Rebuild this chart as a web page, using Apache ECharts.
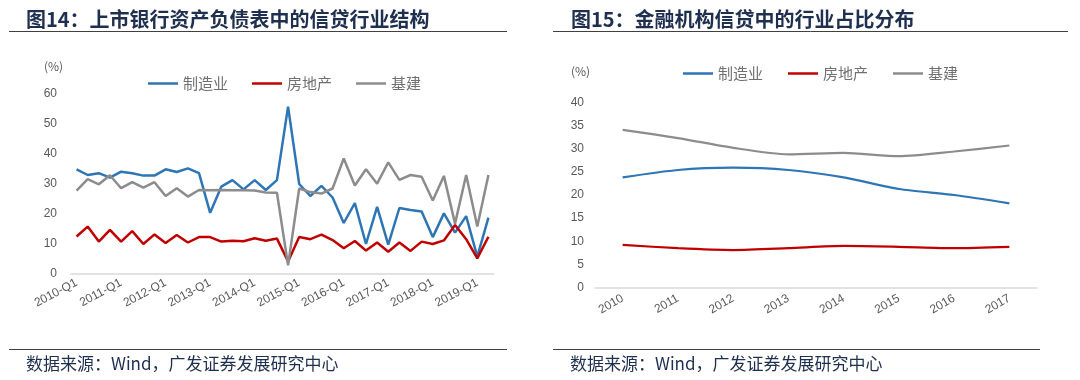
<!DOCTYPE html>
<html>
<head>
<meta charset="utf-8">
<script src="https://cdn.jsdelivr.net/npm/echarts@6/dist/echarts.min.js"></script>
<style>
html,body{margin:0;padding:0;background:#fff;}
#chart{width:1080px;height:380px;}
</style>
</head>
<body>
<div id="chart"></div>
<script>
// ---------- Data: Figure 14 (quarterly) ----------
const quarters = [
  '2010-Q1','2010-Q2','2010-Q3','2010-Q4',
  '2011-Q1','2011-Q2','2011-Q3','2011-Q4',
  '2012-Q1','2012-Q2','2012-Q3','2012-Q4',
  '2013-Q1','2013-Q2','2013-Q3','2013-Q4',
  '2014-Q1','2014-Q2','2014-Q3','2014-Q4',
  '2015-Q1','2015-Q2','2015-Q3','2015-Q4',
  '2016-Q1','2016-Q2','2016-Q3','2016-Q4',
  '2017-Q1','2017-Q2','2017-Q3','2017-Q4',
  '2018-Q1','2018-Q2','2018-Q3','2018-Q4',
  '2019-Q1','2019-Q2'
];
const mfgQ = [34.9, 33.0, 33.6, 32.1, 34.1, 33.6, 32.8, 32.8, 34.9, 34.0, 35.2, 33.6, 20.4, 29.1, 31.3, 28.2, 31.3, 28.0, 31.3, 55.8, 30.0, 26.0, 29.4, 25.5, 17.0, 23.6, 10.0, 22.4, 9.8, 22.0, 21.3, 20.8, 12.3, 20.2, 13.8, 19.3, 5.8, 18.8];
const reQ = [12.5, 15.8, 10.8, 14.7, 10.8, 14.3, 10.0, 13.2, 10.3, 13.0, 10.5, 12.3, 12.3, 10.8, 11.1, 10.9, 11.9, 11.1, 11.8, 4.2, 12.3, 11.6, 13.1, 11.3, 8.6, 11.0, 7.8, 10.5, 7.4, 10.5, 7.7, 10.8, 10.0, 11.2, 16.3, 11.6, 5.2, 12.4];
const infraQ = [27.8, 31.6, 29.9, 32.9, 28.6, 30.6, 28.8, 30.6, 26.0, 28.6, 25.8, 28.0, 27.9, 28.0, 27.9, 27.9, 27.8, 27.2, 27.1, 2.9, 28.5, 27.3, 26.8, 28.5, 38.5, 29.5, 34.9, 30.1, 37.2, 31.4, 33.0, 32.4, 24.5, 32.7, 16.8, 33.0, 15.8, 33.0];

// ---------- Data: Figure 15 (annual) ----------
const years = ['2010','2011','2012','2013','2014','2015','2016','2017'];
const mfgY = [23.8, 25.4, 25.9, 25.4, 23.8, 21.3, 20.0, 18.2];
const reY = [9.2, 8.5, 8.1, 8.5, 9.0, 8.8, 8.5, 8.8];
const infraY = [34.1, 32.3, 30.2, 28.8, 29.1, 28.4, 29.4, 30.7];

const seriesNames = ['制造业', '房地产', '基建'];
const colors = ['#2e75b6', '#c00000', '#8c8c8c'];

const title14 = '图14：上市银行资产负债表中的信贷行业结构';
const title15 = '图15：金融机构信贷中的行业占比分布';
const sourceText = '数据来源：Wind，广发证券发展研究中心';
const unitText = '(%)';

// ---------- Styling ----------
const CJK = '"Noto Sans CJK SC", "Liberation Sans", sans-serif';
const LAT = '"Liberation Sans", Arial, sans-serif';
const navy = '#1f2f4f';
const tickColor = '#595959';

const chart = echarts.init(document.getElementById('chart'), null, {renderer: 'canvas'});

function lineSeries(name, data, xi, width) {
  const c = colors[seriesNames.indexOf(name)];
  return {
    name: name, type: 'line', data: data,
    xAxisIndex: xi, yAxisIndex: xi,
    symbol: 'none', showSymbol: false, smooth: xi === 1 ? 0.25 : false,
    lineStyle: {color: c, width: width},
    itemStyle: {color: c},
    emphasis: {disabled: true}
  };
}

function legendFor(left, top, gap) {
  return {
    data: seriesNames.map(n => ({name: n, icon: 'rect'})),
    left: left, top: top, itemWidth: 30, itemHeight: 2.5, itemGap: gap,
    textStyle: {fontFamily: CJK, fontSize: 15, color: '#707070'},
    selectedMode: false
  };
}

const option = {
  animation: false,
  backgroundColor: '#fff',
  title: [
    {text: title14, left: 21, top: 4, textStyle: {fontFamily: CJK, fontSize: 20, fontWeight: 'bold', color: navy}},
    {text: title15, left: 566, top: 4, textStyle: {fontFamily: CJK, fontSize: 20, fontWeight: 'bold', color: navy}},
    {text: sourceText, left: 21, top: 350, textStyle: {fontFamily: CJK, fontSize: 17, fontWeight: 'normal', color: navy}},
    {text: sourceText, left: 565, top: 350, textStyle: {fontFamily: CJK, fontSize: 17, fontWeight: 'normal', color: navy}}
  ],
  legend: [
    legendFor(143, 71, 24),
    legendFor(678, 61, 25)
  ],
  grid: [
    {left: 71, right: 586, top: 94, bottom: 106},
    {left: 595, right: 43, top: 102.5, bottom: 92.5}
  ],
  xAxis: [
    {
      type: 'category', gridIndex: 0, data: quarters, boundaryGap: true,
      axisLine: {lineStyle: {color: '#d9d9d9', width: 1.5}},
      axisTick: {show: false},
      axisLabel: {interval: 3, rotate: 28, fontFamily: LAT, fontSize: 12, color: tickColor, margin: 8}
    },
    {
      type: 'category', gridIndex: 1, data: years, boundaryGap: true,
      axisLine: {lineStyle: {color: '#d9d9d9', width: 1.5}},
      axisTick: {show: false},
      axisLabel: {interval: 0, rotate: 30, fontFamily: LAT, fontSize: 12, color: tickColor, margin: 10}
    }
  ],
  yAxis: [
    {
      type: 'value', gridIndex: 0, min: 0, max: 60, interval: 10,
      axisLine: {show: false}, axisTick: {show: false}, splitLine: {show: false},
      axisLabel: {fontFamily: LAT, fontSize: 12, color: tickColor, margin: 14}
    },
    {
      type: 'value', gridIndex: 1, min: 0, max: 40, interval: 5,
      axisLine: {show: false}, axisTick: {show: false}, splitLine: {show: false},
      axisLabel: {fontFamily: LAT, fontSize: 12, color: tickColor, margin: 11}
    }
  ],
  series: [
    lineSeries('制造业', mfgQ, 0, 2.5),
    lineSeries('房地产', reQ, 0, 2.5),
    lineSeries('基建', infraQ, 0, 2.5),
    lineSeries('制造业', mfgY, 1, 2.2),
    lineSeries('房地产', reY, 1, 2.2),
    lineSeries('基建', infraY, 1, 2.2)
  ],
  graphic: [
    {type: 'line', shape: {x1: 9, y1: 31.5, x2: 507, y2: 31.5}, style: {stroke: '#404040', lineWidth: 1}},
    {type: 'line', shape: {x1: 553, y1: 31.5, x2: 1068, y2: 31.5}, style: {stroke: '#404040', lineWidth: 1}},
    {type: 'line', shape: {x1: 9, y1: 349.5, x2: 507, y2: 349.5}, style: {stroke: '#404040', lineWidth: 1}},
    {type: 'line', shape: {x1: 553, y1: 349.5, x2: 1040, y2: 349.5}, style: {stroke: '#404040', lineWidth: 1}},
    {type: 'text', left: 44, top: 60, style: {text: unitText, font: '12px ' + CJK, fill: tickColor}},
    {type: 'text', left: 571, top: 65, style: {text: unitText, font: '12px ' + CJK, fill: tickColor}}
  ]
};
chart.setOption(option);
</script>
</body>
</html>
